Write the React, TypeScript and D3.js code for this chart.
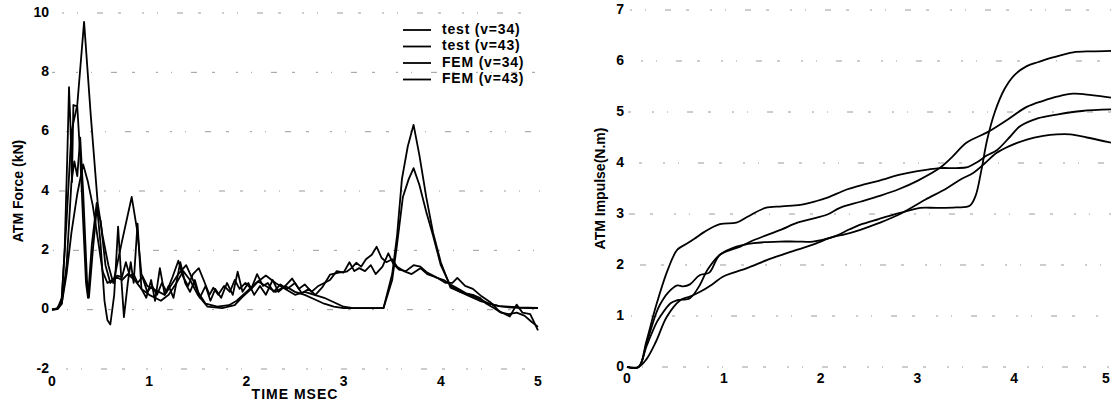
import React from "react";
import * as d3 from "d3";

// ---------- Left chart: ATM Force (kN) vs time (ms) ----------
const forceTicksY = [-2, 0, 2, 4, 6, 8, 10];
const timeTicks = [0, 1, 2, 3, 4, 5];
const legendLabels = ["test (v=34)", "test (v=43)", "FEM (v=34)", "FEM (v=43)"];

const forceTest34: [number, number][] = [
  [0, 0], [0.05, 0.02], [0.1, 0.2], [0.15, 1.2], [0.2, 2.6], [0.26, 3.9], [0.32, 4.9], [0.37, 4.3], [0.42, 3.5], [0.48, 2.2],
  [0.52, 1.3], [0.57, 0.9], [0.62, 1.0], [0.67, 1.15], [0.72, 1.1], [0.76, 1.6], [0.8, 1.15], [0.84, 1.2], [0.88, 0.9], [0.93, 1.1],
  [0.98, 0.6], [1.03, 0.8], [1.08, 0.5], [1.13, 0.9], [1.18, 0.6], [1.24, 1.1], [1.3, 1.65], [1.35, 1.1], [1.4, 0.8], [1.45, 1.2],
  [1.51, 1.4], [1.56, 1.0], [1.62, 0.5], [1.66, 0.74], [1.71, 0.5], [1.77, 0.8], [1.83, 0.6], [1.88, 1.0], [1.93, 0.7], [1.99, 0.9],
  [2.05, 0.7], [2.11, 1.2], [2.17, 0.8], [2.22, 0.9], [2.28, 0.6], [2.35, 0.85], [2.42, 0.7], [2.5, 0.9], [2.57, 0.55], [2.64, 0.7],
  [2.71, 0.5], [2.78, 0.75], [2.86, 1.18], [2.95, 1.25], [3.03, 1.28], [3.08, 1.4], [3.13, 1.58], [3.18, 1.45], [3.23, 1.7], [3.29, 1.85],
  [3.34, 2.12], [3.39, 1.75], [3.44, 1.6], [3.5, 1.7], [3.55, 1.45], [3.62, 1.3], [3.7, 1.2], [3.79, 1.4], [3.86, 1.2], [3.94, 1.1],
  [4.03, 1.0], [4.1, 0.85], [4.18, 0.7], [4.26, 0.55], [4.33, 0.5], [4.4, 0.4], [4.47, 0.2], [4.55, 0.05], [4.62, -0.1], [4.7, -0.15],
  [4.78, -0.1], [4.86, -0.2], [4.93, -0.4], [5.0, -0.58],
];

const forceTest43: [number, number][] = [
  [0, 0], [0.05, 0.03], [0.1, 0.3], [0.13, 2.0], [0.16, 5.5], [0.175, 7.5], [0.19, 6.2], [0.205, 4.3], [0.22, 6.9], [0.26, 6.85],
  [0.29, 5.2], [0.32, 3.0], [0.35, 0.9], [0.37, 0.4], [0.41, 2.2], [0.46, 3.6], [0.5, 2.2], [0.54, 0.3], [0.57, -0.35], [0.6, -0.5],
  [0.64, 0.5], [0.68, 2.8], [0.71, 1.2], [0.74, -0.25], [0.78, 0.9], [0.81, 1.6], [0.84, 0.9], [0.88, 2.9], [0.92, 0.7], [0.97, 0.4],
  [1.02, 1.0], [1.06, 0.3], [1.11, 1.4], [1.16, 0.5], [1.2, 0.8], [1.25, 0.4], [1.32, 1.6], [1.37, 0.9], [1.42, 0.6], [1.47, 1.0],
  [1.52, 0.4], [1.58, 0.8], [1.63, 0.3], [1.68, 0.7], [1.74, 0.4], [1.8, 0.9], [1.86, 0.5], [1.91, 1.28], [1.96, 0.6], [2.02, 0.9],
  [2.08, 0.5], [2.14, 0.8], [2.2, 0.5], [2.27, 1.0], [2.33, 0.6], [2.4, 0.8], [2.47, 1.05], [2.54, 0.7], [2.6, 0.85], [2.67, 0.6],
  [2.74, 0.8], [2.8, 0.9], [2.86, 1.0], [2.93, 1.3], [3.0, 1.25], [3.06, 1.6], [3.11, 1.3], [3.16, 1.4], [3.22, 1.3], [3.28, 1.5],
  [3.33, 1.2], [3.4, 1.45], [3.46, 1.9], [3.51, 1.55], [3.57, 1.35], [3.64, 1.3], [3.72, 1.5], [3.79, 1.45], [3.86, 1.25], [3.95, 1.1],
  [4.05, 0.9], [4.12, 0.9], [4.17, 1.07], [4.25, 0.8], [4.33, 0.7], [4.42, 0.45], [4.51, 0.25], [4.6, -0.05], [4.71, -0.23], [4.78, 0.17],
  [4.84, -0.1], [4.92, -0.15], [5.0, -0.7],
];

const forceFem34: [number, number][] = [
  [0, 0], [0.06, 0.02], [0.1, 0.2], [0.15, 1.5], [0.2, 4.3], [0.23, 5.0], [0.26, 4.5], [0.29, 5.8], [0.32, 4.0], [0.36, 1.0],
  [0.38, 0.4], [0.42, 2.0], [0.46, 3.4], [0.5, 3.0], [0.55, 1.5], [0.6, 0.9], [0.66, 1.1], [0.72, 1.0], [0.78, 1.2], [0.85, 1.0],
  [0.92, 0.7], [1.0, 0.5], [1.06, 0.4], [1.12, 0.3], [1.2, 0.5], [1.28, 0.9], [1.35, 1.3], [1.42, 1.0], [1.5, 0.5], [1.6, 0.1],
  [1.75, 0.05], [1.88, 0.15], [1.95, 0.4], [2.05, 0.7], [2.12, 0.95], [2.2, 0.8], [2.3, 0.6], [2.4, 0.8], [2.5, 0.6], [2.6, 0.5],
  [2.7, 0.35], [2.8, 0.2], [2.9, 0.1], [3.0, 0.05], [3.12, 0.05], [3.25, 0.05], [3.41, 0.05], [3.5, 1.0], [3.55, 2.2], [3.61, 3.8],
  [3.67, 4.4], [3.72, 4.77], [3.78, 4.2], [3.85, 3.3], [3.92, 2.5], [4.0, 1.5], [4.1, 0.8], [4.2, 0.6], [4.3, 0.45], [4.4, 0.3],
  [4.5, 0.2], [4.6, 0.12], [4.7, 0.1], [4.8, 0.08], [4.9, 0.07], [5.0, 0.06],
];

const forceFem43: [number, number][] = [
  [0, 0], [0.06, 0.05], [0.1, 0.4], [0.15, 3.0], [0.2, 6.0], [0.26, 6.9], [0.33, 9.7], [0.4, 6.5], [0.47, 3.6], [0.52, 2.5],
  [0.58, 1.5], [0.63, 0.9], [0.72, 2.3], [0.82, 3.8], [0.88, 2.6], [0.92, 1.2], [0.98, 0.8], [1.04, 0.7], [1.1, 0.6], [1.16, 0.5],
  [1.22, 0.8], [1.3, 1.2], [1.38, 1.5], [1.45, 1.0], [1.5, 0.6], [1.58, 0.2], [1.7, 0.1], [1.82, 0.15], [1.9, 0.3], [2.0, 0.6],
  [2.1, 0.9], [2.2, 1.15], [2.3, 0.9], [2.4, 0.7], [2.5, 0.5], [2.6, 0.6], [2.7, 0.5], [2.8, 0.4], [2.9, 0.25], [3.0, 0.1],
  [3.1, 0.05], [3.2, 0.05], [3.3, 0.05], [3.41, 0.05], [3.5, 1.2], [3.55, 2.5], [3.6, 4.4], [3.66, 5.5], [3.72, 6.23], [3.78, 5.2],
  [3.85, 3.8], [3.92, 2.6], [4.0, 1.6], [4.1, 0.74], [4.2, 0.6], [4.3, 0.5], [4.4, 0.35], [4.5, 0.2], [4.6, 0.12], [4.7, 0.08],
  [4.8, 0.06], [4.9, 0.05], [5.0, 0.05],
];

// ---------- Right chart: ATM Impulse (N.m) vs time (ms) ----------
const impulseTicksY = [0, 1, 2, 3, 4, 5, 6, 7];

const impulseFem43: [number, number][] = [
  [0, 0], [0.12, 0], [0.2, 0.5], [0.3, 1.2], [0.42, 1.9], [0.52, 2.3], [0.62, 2.42], [0.7, 2.52], [0.8, 2.65], [0.96, 2.8],
  [1.13, 2.83], [1.25, 2.95], [1.43, 3.12], [1.6, 3.15], [1.79, 3.18], [1.95, 3.25], [2.07, 3.32], [2.27, 3.48], [2.45, 3.58], [2.6, 3.65],
  [2.82, 3.77], [3.0, 3.84], [3.23, 3.9], [3.4, 3.9], [3.52, 3.92], [3.62, 4.02], [3.72, 4.15], [3.82, 4.25], [3.95, 4.5], [4.06, 4.72],
  [4.25, 4.88], [4.44, 4.95], [4.7, 5.02], [5.0, 5.05],
];

const impulseTest43: [number, number][] = [
  [0, 0], [0.12, 0], [0.2, 0.45], [0.3, 1.05], [0.34, 1.22], [0.42, 1.45], [0.52, 1.6], [0.58, 1.58], [0.65, 1.62], [0.75, 1.8],
  [0.85, 1.85], [0.96, 2.2], [1.17, 2.36], [1.3, 2.48], [1.45, 2.59], [1.6, 2.7], [1.76, 2.83], [1.9, 2.9], [2.07, 2.99], [2.2, 3.12],
  [2.41, 3.24], [2.6, 3.35], [2.8, 3.48], [3.0, 3.65], [3.23, 3.9], [3.35, 4.1], [3.51, 4.4], [3.72, 4.6], [3.93, 4.85], [4.13, 5.1],
  [4.3, 5.22], [4.44, 5.3], [4.61, 5.36], [4.8, 5.33], [5.0, 5.28],
];

const impulseFem34: [number, number][] = [
  [0, 0], [0.12, 0], [0.2, 0.4], [0.3, 0.85], [0.34, 0.98], [0.45, 1.25], [0.52, 1.31], [0.65, 1.35], [0.75, 1.6], [0.83, 1.9],
  [0.96, 2.2], [1.13, 2.36], [1.31, 2.43], [1.45, 2.45], [1.58, 2.46], [1.75, 2.46], [1.92, 2.46], [2.13, 2.55], [2.3, 2.7], [2.41, 2.79],
  [2.6, 2.9], [2.82, 3.02], [3.03, 3.12], [3.2, 3.12], [3.4, 3.13], [3.54, 3.16], [3.6, 3.35], [3.66, 3.85], [3.72, 4.45], [3.8, 5.0],
  [3.9, 5.45], [4.0, 5.72], [4.13, 5.9], [4.25, 5.98], [4.4, 6.07], [4.61, 6.17], [4.8, 6.19], [5.0, 6.2],
];

const impulseTest34: [number, number][] = [
  [0, 0], [0.12, 0], [0.2, 0.15], [0.3, 0.5], [0.41, 0.98], [0.55, 1.31], [0.65, 1.38], [0.75, 1.47], [0.88, 1.62], [0.99, 1.77],
  [1.1, 1.85], [1.24, 1.94], [1.45, 2.1], [1.6, 2.2], [1.76, 2.3], [1.92, 2.4], [2.13, 2.55], [2.25, 2.6], [2.41, 2.69], [2.6, 2.82],
  [2.8, 2.98], [3.08, 3.28], [3.3, 3.5], [3.45, 3.68], [3.58, 3.81], [3.7, 4.0], [3.82, 4.2], [3.95, 4.33], [4.13, 4.46], [4.3, 4.53],
  [4.44, 4.56], [4.58, 4.56], [4.75, 4.5], [5.0, 4.4],
];

const FONT = "'Liberation Sans', Arial, Helvetica, sans-serif";
const GRID_DASH = "2 13 1 19 6 15 3 21";

export default function App() {
  // left scales
  const xL = d3.scaleLinear().domain([0, 5]).range([52, 538]);
  const yL = d3.scaleLinear().domain([-2, 10]).range([369, 13]);
  // right scales
  const xR = d3.scaleLinear().domain([0, 5]).range([627, 1111]);
  const yR = d3.scaleLinear().domain([0, 7]).range([367, 10]);

  const lineL = d3
    .line<[number, number]>()
    .x((d) => xL(d[0]))
    .y((d) => yL(d[1]))
    .curve(d3.curveLinear);
  const lineR = d3
    .line<[number, number]>()
    .x((d) => xR(d[0]))
    .y((d) => yR(d[1]))
    .curve(d3.curveCatmullRom);

  const forceSeries = [forceTest34, forceTest43, forceFem34, forceFem43];
  const impulseSeries = [impulseFem43, impulseTest43, impulseFem34, impulseTest34];

  const legendY0 = 30;
  const legendStep = 16.5;

  return (
    <svg
      width={1111}
      height={404}
      style={{ position: "absolute", left: 0, top: 0, background: "#fff" }}
      fontFamily={FONT}
    >
      <rect x={0} y={0} width={1111} height={404} fill="#fff" />

      {/* ---------- Left chart ---------- */}
      <g>
        {forceTicksY.map((t) => (
          <line
            key={"gl" + t}
            x1={xL(0)}
            x2={xL(5) + 2}
            y1={yL(t)}
            y2={yL(t)}
            stroke="#9a9a9a"
            strokeWidth={1}
            strokeDasharray={GRID_DASH}
            strokeDashoffset={t * 7}
          />
        ))}
        {forceTicksY.map((t) => (
          <text
            key={"tyl" + t}
            x={49}
            y={yL(t)}
            textAnchor="end"
            dominantBaseline="middle"
            fontSize={14}
            fontWeight="bold"
          >
            {t}
          </text>
        ))}
        {timeTicks.map((t) => (
          <text
            key={"txl" + t}
            x={xL(t)}
            y={382}
            textAnchor="middle"
            dominantBaseline="middle"
            fontSize={14}
            fontWeight="bold"
          >
            {t}
          </text>
        ))}
        <text
          x={295}
          y={399}
          textAnchor="middle"
          fontSize={14}
          fontWeight="bold"
          letterSpacing={1}
        >
          TIME MSEC
        </text>
        <text
          transform={`translate(23,${yL(4)}) rotate(-90)`}
          textAnchor="middle"
          fontSize={14}
          fontWeight="bold"
        >
          ATM Force (kN)
        </text>

        {forceSeries.map((s, i) => (
          <path
            key={"fs" + i}
            d={lineL(s) || ""}
            fill="none"
            stroke="#000"
            strokeWidth={1.8}
            strokeLinejoin="round"
          />
        ))}

        {legendLabels.map((lab, i) => (
          <g key={"lg" + i}>
            <line
              x1={403}
              x2={431}
              y1={legendY0 + i * legendStep}
              y2={legendY0 + i * legendStep}
              stroke="#000"
              strokeWidth={1.8}
            />
            <text
              x={442}
              y={legendY0 + i * legendStep}
              dominantBaseline="middle"
              fontSize={14}
              fontWeight="bold"
              letterSpacing={0.8}
            >
              {lab}
            </text>
          </g>
        ))}
      </g>

      {/* ---------- Right chart ---------- */}
      <g>
        {impulseTicksY.map((t) => (
          <line
            key={"gr" + t}
            x1={xR(0)}
            x2={1111}
            y1={yR(t)}
            y2={yR(t)}
            stroke="#9a9a9a"
            strokeWidth={1}
            strokeDasharray={GRID_DASH}
            strokeDashoffset={t * 11}
          />
        ))}
        {impulseTicksY.map((t) => (
          <text
            key={"tyr" + t}
            x={624}
            y={yR(t)}
            textAnchor="end"
            dominantBaseline="middle"
            fontSize={14}
            fontWeight="bold"
          >
            {t}
          </text>
        ))}
        {timeTicks.map((t) => (
          <text
            key={"txr" + t}
            x={Math.min(xR(t), 1106)}
            y={379}
            textAnchor="middle"
            dominantBaseline="middle"
            fontSize={14}
            fontWeight="bold"
          >
            {t}
          </text>
        ))}
        <text
          transform={`translate(605,${yR(3.5)}) rotate(-90)`}
          textAnchor="middle"
          fontSize={14}
          fontWeight="bold"
        >
          ATM Impulse(N.m)
        </text>

        {impulseSeries.map((s, i) => (
          <path
            key={"is" + i}
            d={lineR(s) || ""}
            fill="none"
            stroke="#000"
            strokeWidth={1.8}
            strokeLinejoin="round"
          />
        ))}
      </g>
    </svg>
  );
}
